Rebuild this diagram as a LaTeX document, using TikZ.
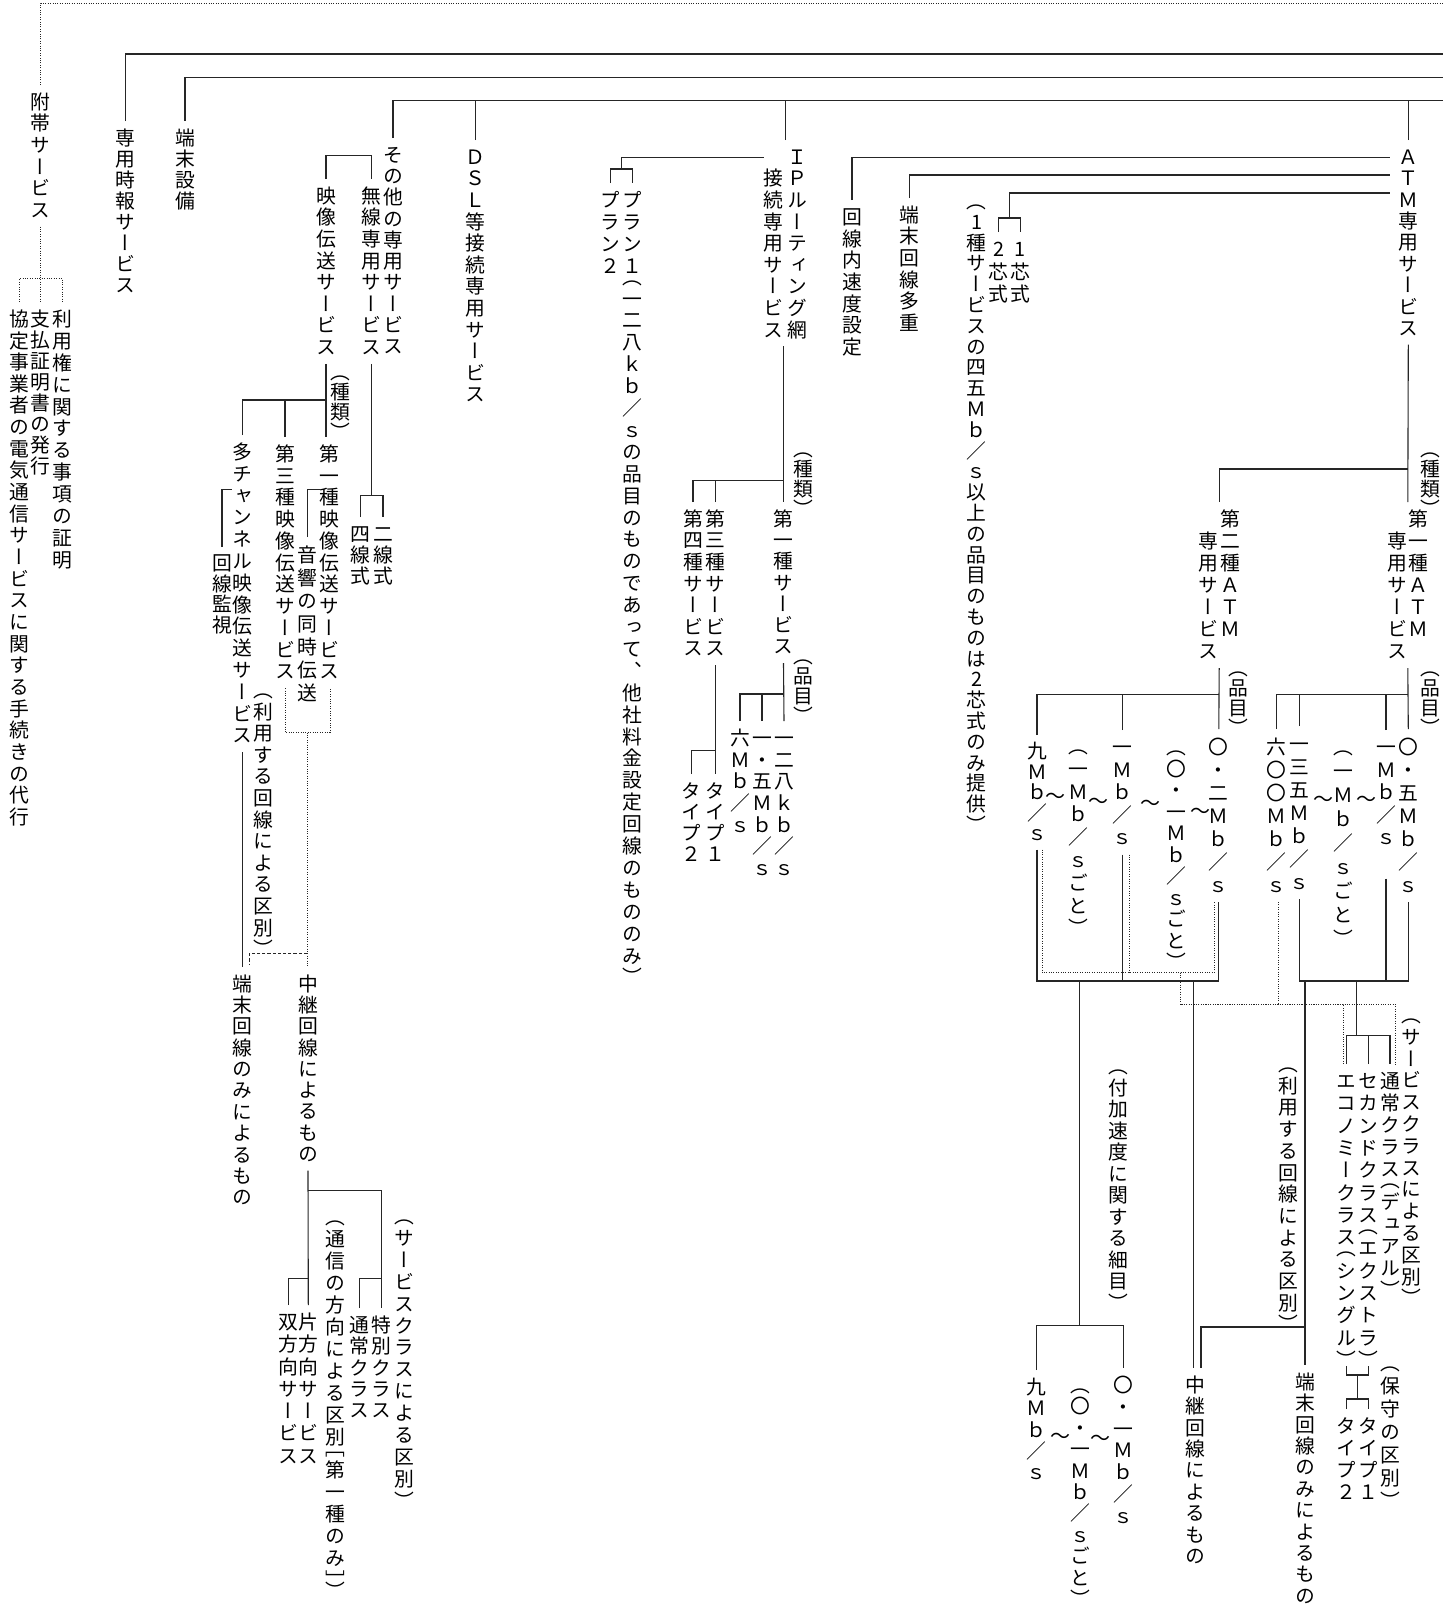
\documentclass[tikz,border=0pt]{standalone}
\usepackage{fontspec}
\usepackage{tikz}
\usetikzlibrary{positioning}
\newfontfamily\jfont[RawFeature={+vert}]{Noto Sans CJK JP}
\newfontfamily\jhfont{Noto Sans CJK JP}
\newcommand\jf{\jfont\fontsize{9.9pt}{9.9pt}\selectfont}
\newcommand\jhf{\jhfont\fontsize{10pt}{10pt}\selectfont}
\newdimen\unitpx \unitpx=0.5pt
\newdimen\tatep
\makeatletter
\def\tt@opa{（}\def\tt@opb{［}\def\tt@cla{）}\def\tt@clb{］}
% one cell per character, brackets take half a cell
\def\tt@full{\hbox to 1em{\hss\vrule width0pt height\dimexpr(\tatep+.76em)/2\relax depth\dimexpr(\tatep-.76em)/2\relax\relax\smash{\tt@c}\hss}}
\def\tt@lowhalf{\hbox to 1em{\hss\vrule width0pt height.38em depth\dimexpr\tatep/2-.38em\relax\relax\smash{\tt@c}\hss}}
\def\tt@uphalf{\hbox to 1em{\hss\vrule width0pt height\dimexpr\tatep/2\relax depth0pt\relax\smash{\lower.38em\hbox{\tt@c}}\hss}}
\newcommand\tate[2][21.5]{\tatep=#1\unitpx
  \vtop{\offinterlineskip
    \@tfor\tt@c:=#2\do{%
      \ifx\tt@c\tt@opa\tt@lowhalf
      \else\ifx\tt@c\tt@opb\tt@lowhalf
      \else\ifx\tt@c\tt@cla\tt@uphalf
      \else\ifx\tt@c\tt@clb\tt@uphalf
      \else\tt@full\fi\fi\fi\fi}}}
\makeatother
\tikzset{
  vt/.style={inner sep=0pt,outer sep=3pt,anchor=north,font=\jf},
  tld/.style={inner sep=0pt,font=\jhf},
  ln/.style={line width=0.55pt,black!85},
  dotln/.style={line width=0.5pt,black!85,dash pattern=on 0.5pt off 0.7pt},
  dsh/.style={line width=0.5pt,black!85,dash pattern=on 1.6pt off 1pt}
}
\begin{document}
\begin{tikzpicture}[x=0.5pt,y=-0.5pt]
\useasboundingbox (0,0) rectangle (1453,1607);
\coordinate (R0) at (1443,3.4);
\coordinate (R1) at (1443,54);
\coordinate (R2) at (1443,77.6);
\coordinate (R3) at (1443,100.8);
\coordinate (aL1) at (1390,157.2);
\coordinate (aL2) at (1390,175);
\coordinate (aL3) at (1390,193);

% 附帯サービス
\node[vt] (fuz) at (40.5,85) {\tate[21.6]{附帯サービス}};
\node[vt] (riy) at (62.4,302) {\tate[21.9]{利用権に関する事項の証明}};
\node[vt] (shi) at (40.5,302) {\tate[21]{支払証明書の発行}};
\node[vt] (kyo) at (19.5,302) {\tate[21.65]{協定事業者の電気通信サービスに関する手続きの代行}};
\coordinate (fzj) at (40.5,278.6);
\draw[dotln] (fuz.north) |- (R0);
\draw[dotln] (fuz.south) -- (fzj) -- (shi.north);
\draw[dotln] (kyo.north) |- (fzj) -| (riy.north);

\node[vt] (jih) at (125.3,121) {\tate[21]{専用時報サービス}};
\node[vt] (tan) at (185,121) {\tate[21.2]{端末設備}};
\draw[ln] (jih.north) |- (R1);
\draw[ln] (tan.north) |- (R2);

\node[vt] (sono) at (393,138) {\tate[21.3]{その他の専用サービス}};
\node[vt] (dsl) at (475.3,140) {\tate[21.6]{ＤＳＬ等接続専用サービス}};
\node[vt] (ip) at (785.3,140) {\hbox{\tate[21.6]{　接続専用サービス}\kern1.75pt\tate[21.6]{ＩＰルーティング網}}};
\node[vt] (atm) at (1408.3,140) {\tate[21.4]{ＡＴＭ専用サービス}};
\draw[ln] (sono.north) |- (R3);
\foreach \nd in {dsl,ip,atm} \draw[ln] (\nd.north) -- (\nd.north |- R3);

% その他の専用サービス
\node[vt] (muse) at (371.3,179) {\tate[21.6]{無線専用サービス}};
\node[vt] (eizo) at (326,179) {\tate[21.6]{映像伝送サービス}};
\draw[ln] (eizo.north) -- ++(0,-23.5) -| (muse.north);
\node[vt] (nisen) at (383,517) {\tate[21]{二線式}};
\node[vt] (yonsen) at (360.5,517) {\tate[21]{四線式}};
\coordinate (mj) at (371.3,495.6);
\draw[ln] (muse.south) -- (mj);
\draw[ln] (yonsen.north) |- (mj) -| (nisen.north);

\node[vt] (eshu) at (340,366) {\tate[20]{（種類）}};
\node[vt] (e1) at (329,437) {\tate[21.75]{第一種映像伝送サービス}};
\node[vt] (e3) at (285,437) {\tate[21.75]{第三種映像伝送サービス}};
\node[vt] (etc) at (242.5,435) {\tate[21.8]{多チャンネル映像伝送サービス}};
\coordinate (ej) at (326,400);
\draw[ln] (eizo.south) -- (ej) -- (ej |- e1.north);
\draw[ln] (etc.north) |- (ej);
\draw[ln] (e3.north) -- (e3.north |- ej);
\node[vt] (onk) at (307.5,537) {\tate[23]{音響の同時伝送}};
\node[vt] (kan) at (222,547) {\tate[20.5]{回線監視}};
\draw[ln] (onk.north) -- ++(0,-47.5) -- ++(12,0);
\draw[ln] (kan.north) -- ++(0,-57.5) -- ++(10,0);

\node[vt] (riy1) at (263.3,684) {\tate[21.6]{（利用する回線による区別）}};
\node[vt] (chu1) at (308,967) {\tate[21.3]{中継回線によるもの}};
\node[vt] (tanm1) at (242.5,967) {\tate[21.35]{端末回線のみによるもの}};
\draw[ln] (etc.south) -- (tanm1.north);
\coordinate (eb) at (307,732.6);
\coordinate (ed) at (307,953.7);
\draw[dotln] (e3.south) |- (eb) -| ([xshift=0.5pt]e1.south);
\draw[dotln] (eb) -- (eb |- chu1.north);
\draw[dsh] (ed) -- ++(-57.7,0) -- ++(0,11);

\node[vt] (kat) at (308.3,1305) {\tate[22.25]{片方向サービス}};
\node[vt] (sou) at (288.3,1305) {\tate[22.25]{双方向サービス}};
\node[vt] (tsh) at (335,1211) {\tate[22]{（通信の方向による区別［第一種のみ］）}};
\node[vt] (tok) at (381.3,1308) {\tate[21.4]{特別クラス}};
\node[vt] (tsu) at (359.5,1308) {\tate[21.4]{通常クラス}};
\node[vt] (sc1) at (404.7,1210) {\tate[21.9]{（サービスクラスによる区別）}};
\coordinate (cj) at (308.3,1190.6);
\draw[ln] (chu1.south) -- (kat.north);
\draw[ln] (cj) -| (tok.north);
\draw[ln] (sou.north) -- ++(0,-26.2) -| (kat.north);
\draw[ln] (tsu.north) -- ++(0,-29.2) -| (tok.north);

% IPルーティング網接続専用サービス
\node[vt] (pl1) at (632.3,183) {\tate[21.9]{プラン１（一二八ｋｂ／ｓの品目のものであって、他社料金設定回線のもののみ）}};
\node[vt] (pl2) at (610.3,183) {\tate[21.9]{プラン２}};
\coordinate (pj) at (621.3,169);
\draw[ln] (pl2.north) |- (pj) -| (pl1.north);
\draw[ln] (pj) -- ++(0,-11.8) -- ++(142.4,0);

\node[vt] (ipshu) at (803.7,443) {\tate[20]{（種類）}};
\node[vt] (d1s) at (783.5,502) {\tate[21.3]{第一種サービス}};
\node[vt] (d3s) at (715.5,502) {\tate[21.6]{第三種サービス}};
\node[vt] (d4s) at (693,502) {\tate[21.6]{第四種サービス}};
\coordinate (ij) at (783.5,480.2);
\draw[ln] (d1s.north |- ip.south) -- (d1s.north);
\draw[ln] (d4s.north) |- (ij);
\draw[ln] (d3s.north) -- (d3s.north |- ij);

\node[vt] (ty1) at (715.5,774) {\tate[21.2]{タイプ１}};
\node[vt] (ty2) at (691.3,774) {\tate[21.2]{タイプ２}};
\draw[ln] (d3s.south) -- (ty1.north);
\draw[ln] (ty2.north) -- ++(0,-23.7) -| (ty1.north);

\node[vt] (iphin) at (803.7,650) {\tate[20]{（品目）}};
\node[vt] (k128) at (784,721) {\tate[21.7]{一二八ｋｂ／ｓ}};
\node[vt] (m15) at (762,721) {\tate[21.7]{一・五Ｍｂ／ｓ}};
\node[vt] (m6) at (740,721) {\tate[21.7]{六Ｍｂ／ｓ}};
\coordinate (kj) at (784,694);
\draw[ln] (d1s.south) -- (k128.north);
\draw[ln] (m6.north) |- (kj);
\draw[ln] (m15.north) -- (m15.north |- kj);

% 回線内速度設定 ほか
\node[vt] (kai) at (852,200) {\tate[21.7]{回線内速度設定}};
\node[vt] (tmt) at (909.7,198) {\tate[21.6]{端末回線多重}};
\node[vt] (s1) at (1020.3,232) {\tate[22.5]{1芯式}};
\node[vt] (s2) at (998.7,232) {\tate[22.5]{2芯式}};
\node[vt] (note) at (976.5,195) {\tate[20.8]{（1種サービスの四五Ｍｂ／ｓ以上の品目のものは2芯式のみ提供）}};
\coordinate (sj) at (1009.7,218);
\draw[ln] (kai.north) |- (aL1);
\draw[ln] (tmt.north) |- (aL2);
\draw[ln] (sj) |- (aL3);
\draw[ln] (s2.north) |- (sj) -| (s1.north);

% ATM専用サービス
\node[vt] (atshu) at (1430,443) {\tate[20]{（種類）}};
\node[vt] (atm2) at (1219.2,502) {\hbox{\tate[22]{　専用サービス}\kern0.95pt\tate[22]{第二種ＡＴＭ}}};
\node[vt] (atm1) at (1407.8,502) {\hbox{\tate[22]{　専用サービス}\kern0.95pt\tate[22]{第一種ＡＴＭ}}};
\coordinate (aj) at (1408.3,469);
\draw[ln] (atm.south) -- (atm1.north);
\draw[ln] (atm2.north) |- (aj);

\node[vt] (hin2) at (1238.3,662) {\tate[20]{（品目）}};
\node[vt] (hin1) at (1430,662) {\tate[20]{（品目）}};
\node[vt] (n02) at (1218.8,729) {\tate[23]{〇・二Ｍｂ／ｓ}};
\node[vt] (g01) at (1176,741) {\tate[21.5]{（〇・一Ｍｂ／ｓごと）}};
\node[vt] (m1a) at (1122.3,730) {\tate[22.5]{一Ｍｂ／ｓ}};
\node[vt] (g1a) at (1078.7,740) {\tate[22.8]{（一Ｍｂ／ｓごと）}};
\node[vt] (m9a) at (1037,735) {\tate[20.5]{九Ｍｂ／ｓ}};
\coordinate (bj2) at (1218.8,694.6);
\draw[ln] (atm2.south) -- (n02.north);
\draw[ln] (m9a.north) |- (bj2);
\draw[ln] (m1a.north) -- (m1a.north |- bj2);

\node[vt] (n05) at (1408.3,729) {\tate[23]{〇・五Ｍｂ／ｓ}};
\node[vt] (m1b) at (1386,730) {\tate[22.5]{一Ｍｂ／ｓ}};
\node[vt] (g1b) at (1343.3,741) {\tate[24]{（一Ｍｂ／ｓごと）}};
\node[vt] (m135) at (1299.3,726) {\tate[23]{一三五Ｍｂ／ｓ}};
\node[vt] (m600) at (1276.7,729) {\tate[23]{六〇〇Ｍｂ／ｓ}};
\coordinate (bj1) at (1408.3,694.6);
\draw[ln] (atm1.south) -- (n05.north);
\draw[ln] (m600.north) |- (bj1);
\foreach \nd in {m135,m1b} \draw[ln] (\nd.north) -- (\nd.north |- bj1);

\foreach \tx/\ty [count=\i] in {1055.3/798,1098.3/803,1150/805,1200/813.6,1323.3/801.6,1366.7/801.6,1060.3/1438.4,1100/1440}
  \node[tld] (t\i) at (\tx,\ty) {〜};

\coordinate (cj2) at (1079.7,981);
\coordinate (cj3) at (1193.3,981);
\coordinate (h1) at (1356.7,981);
\draw[ln] (m9a.south) |- (cj2) -| (n02.south);
\draw[ln] (m1a.south) -- (m1a.south |- cj2);
\draw[ln] (m135.south) |- (h1) -| (n05.south);
\draw[ln] ([yshift=-12pt]m1b.south) -- (m1b.south |- h1);

\coordinate (dj) at (1180.7,972.5);
\coordinate (dk) at (1180.7,1004);
\draw[dotln] ([xshift=2.5pt]m9a.south) |- (dj) -| ([xshift=-2.2pt]n02.south);
\draw[dotln] ([xshift=3.5pt]m1a.south) -- ++(0,118);
\draw[dotln] (dj) -- (dk);
\draw[dotln] ([xshift=0.8pt]m600.south) -- ++(0,102);

% サービスクラス
\node[vt] (scl) at (1411.7,1009) {\tate[21.8]{（サービスクラスによる区別）}};
\node[vt] (tsuj) at (1390,1064) {\tate[22]{通常クラス（デュアル）}};
\node[vt] (sec) at (1368.3,1064) {\tate[22.3]{セカンドクラス（エクストラ）}};
\node[vt] (eco) at (1346.7,1064) {\tate[22.3]{エコノミークラス（シングル）}};
\coordinate (h2) at (1356.7,1035.7);
\draw[ln] (h1) -- (h2);
\draw[ln] (eco.north) |- (h2) -| (tsuj.north);
\draw[ln] (sec.north) -- (sec.north |- h2);
\draw[dotln] ([xshift=-1.7pt]eco.north) |- (dk) -| ([xshift=2.5pt]tsuj.north);

\node[vt] (hos) at (1390,1357) {\tate[23]{（保守の区別）}};
\node[vt] (tp1) at (1368.3,1409) {\tate[22]{タイプ１}};
\node[vt] (tp2) at (1346.7,1409) {\tate[22]{タイプ２}};
\coordinate (g1) at (1357.7,1375);
\coordinate (g2) at (1357.7,1399);
\draw[ln] (eco.south) |- (g1) -| (sec.south);
\draw[ln] (g1) -- (g2);
\draw[ln] (tp2.north) |- (g2) -| (tp1.north);

% 付加速度・利用する回線
\node[vt] (fuka) at (1118.3,1060) {\tate[21.5]{（付加速度に関する細目）}};
\node[vt] (riy2) at (1288.3,1058) {\tate[21.7]{（利用する回線による区別）}};
\node[vt] (n01b) at (1123.3,1368) {\tate[21.8]{〇・一Ｍｂ／ｓ}};
\node[vt] (g01b) at (1080.3,1379) {\tate[21.4]{（〇・一Ｍｂ／ｓごと）}};
\node[vt] (m9b) at (1036.3,1370) {\tate[21.4]{九Ｍｂ／ｓ}};
\node[vt] (chu2) at (1195,1368) {\tate[21.4]{中継回線によるもの}};
\node[vt] (tanm2) at (1305,1365) {\tate[21.4]{端末回線のみによるもの}};
\coordinate (fj) at (1079.7,1325.6);
\coordinate (u1) at (1305,1327);
\draw[ln] (cj2) -- (fj);
\draw[ln] (m9b.north) |- (fj) -| (n01b.north);
\draw[ln] (cj3) -- (cj3 |- chu2.north);
\draw[ln] (h1 -| tanm2.north) -- (tanm2.north);
\draw[ln] (u1) -| ([xshift=3pt]chu2.north);
\end{tikzpicture}
\end{document}
